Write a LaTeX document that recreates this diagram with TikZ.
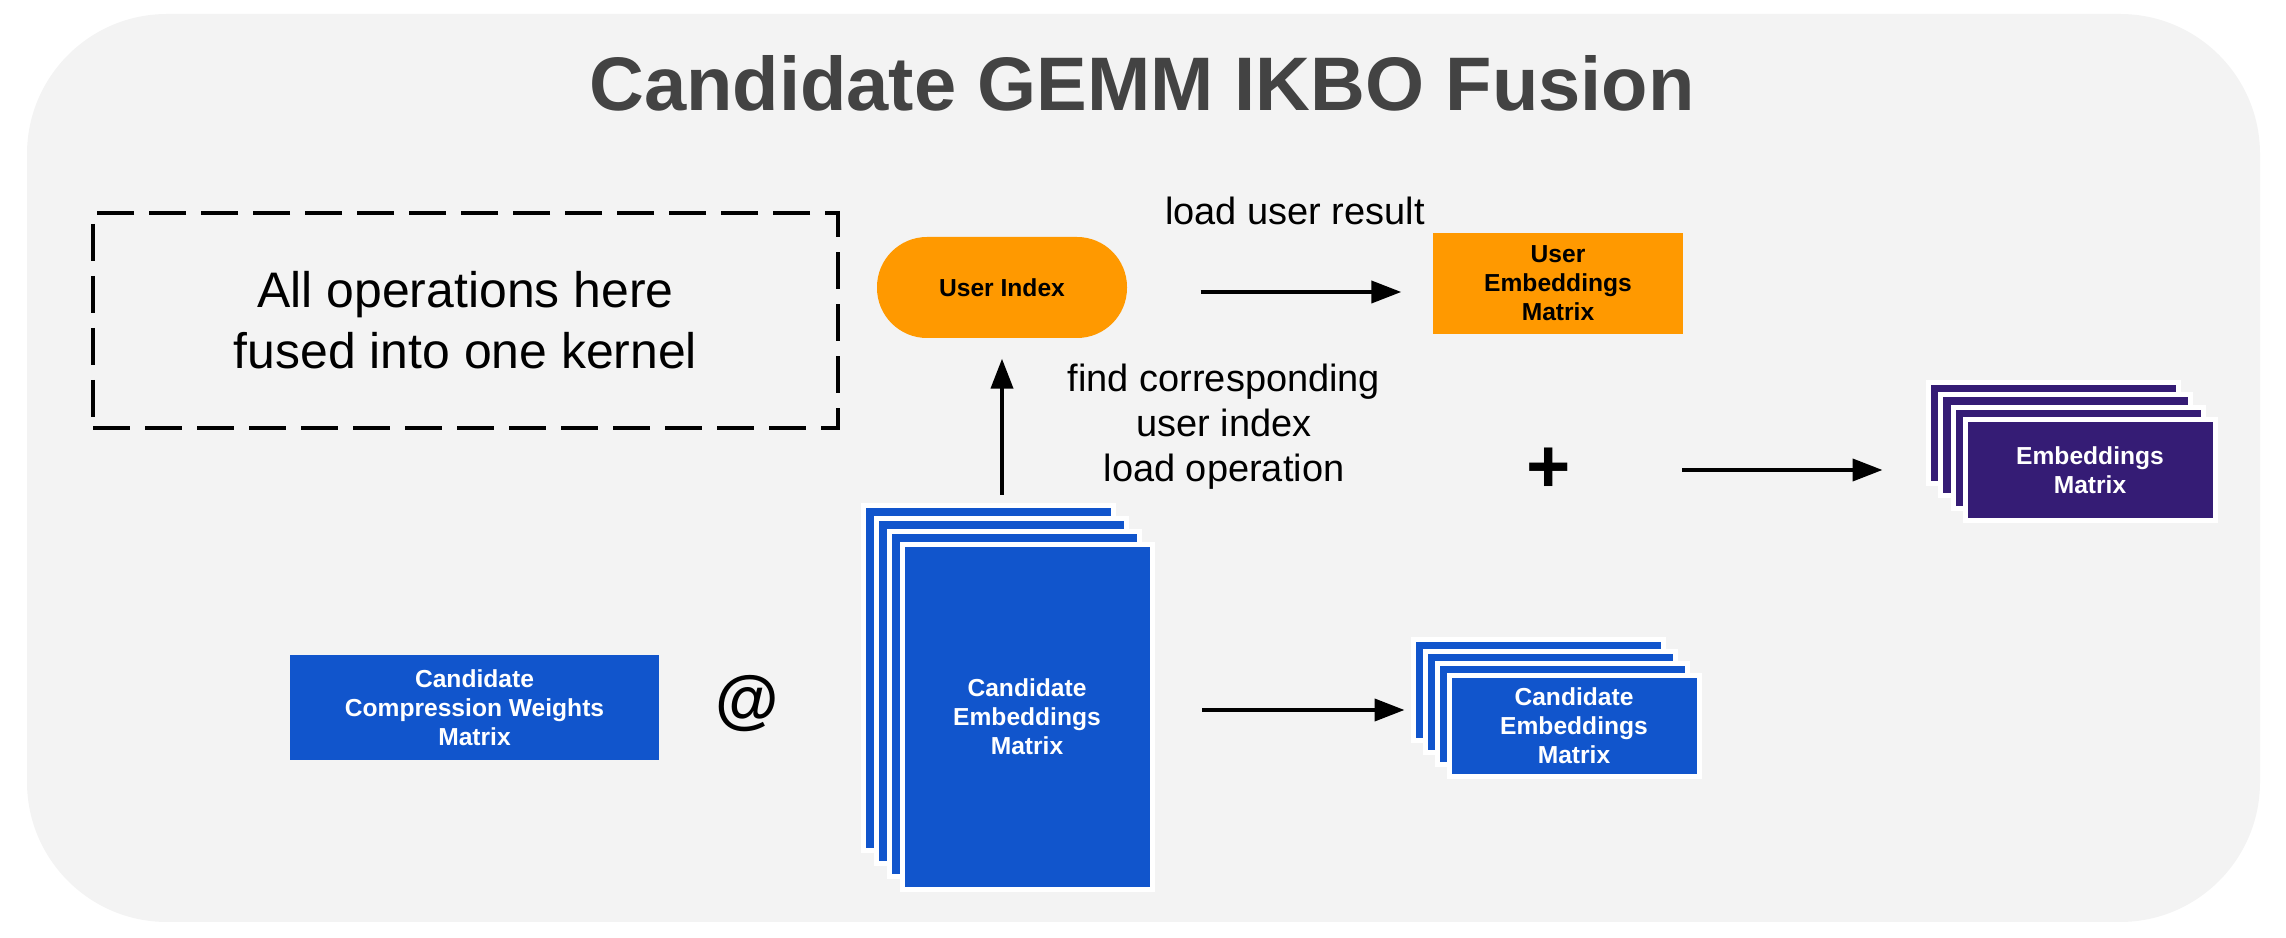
\documentclass[tikz,border=0pt]{standalone}
\usepackage{fontspec}
\setmainfont{Liberation Sans}
\usetikzlibrary{arrows.meta,positioning}
\definecolor{fgorange}{HTML}{FF9900}
\definecolor{fgblue}{HTML}{1155CC}
\definecolor{fgpurple}{HTML}{351C75}
\definecolor{fgback}{HTML}{F3F3F3}
\definecolor{fgtitle}{HTML}{434343}

\begin{document}
\begin{tikzpicture}[x=0.1mm,y=-0.1mm,
 boxtext/.style={font=\fontsize{7pt}{8.25pt}\selectfont\bfseries,align=center,inner sep=0pt},
 layer/.style={boxtext,draw=white,line width=0.5mm,minimum width=25mm,minimum height=10.1mm,text=white},
 tall/.style={layer,minimum height=34.5mm},
 note/.style={font=\fontsize{10.8pt}{12.8pt}\selectfont,align=center,inner sep=0pt},
 arr/.style={-{Triangle[length=3mm,width=2.2mm]},line width=0.4mm}
]
\useasboundingbox (0,0) rectangle (2286,938);
\fill[fgback,rounded corners=14mm] (27,14) rectangle (2260,922);

\node[font=\fontsize{21.6pt}{26pt}\selectfont\bfseries,text=fgtitle,inner sep=0pt] (title) at (1142,83) {Candidate GEMM IKBO Fusion};

\node[draw,line width=0.4mm,dash pattern=on 3.7mm off 1.5mm,minimum width=74.5mm,minimum height=21.5mm,
  font=\fontsize{14.2pt}{17.4pt}\selectfont,align=center] (fused) at (465.5,320.5) {All operations here\\fused into one kernel};

\node[boxtext,fill=fgorange,rounded corners=5mm,minimum width=25mm,minimum height=10.1mm] (ui) at (1002,287.5) {User Index};
\node[boxtext,fill=fgorange,minimum width=25mm,minimum height=10.1mm] (ue) at (1558,283.5) {User\\Embeddings\\Matrix};
\node[note] (lr) at (1295,211) {load user result};
\node[note] (fc) at (1224,427) {find corresponding\\user index\\load operation};

\node[boxtext,fill=fgblue,text=white,minimum width=36.9mm,minimum height=10.5mm] (cw) at (474.5,708) {Candidate\\Compression Weights\\Matrix};
\node[font=\fontsize{18.5pt}{22pt}\selectfont\bfseries,inner sep=0pt] (at) at (747,704) {@};

\node[tall,fill=fgblue] (ca) at (988,678) {};
\node[tall,fill=fgblue] (cb) at (1001,691) {};
\node[tall,fill=fgblue] (cc) at (1014,704) {};
\node[tall,fill=fgblue] (cd) at (1027,717) {Candidate\\Embeddings\\Matrix};

\node[layer,fill=fgblue] (sa) at (1538,690) {};
\node[layer,fill=fgblue] (sb) at (1550,702) {};
\node[layer,fill=fgblue] (sc) at (1562,714) {};
\node[layer,fill=fgblue] (sd) at (1574,726) {Candidate\\Embeddings\\Matrix};

\node[font=\fontsize{21.6pt}{26pt}\selectfont\bfseries,inner sep=0pt] (plus) at (1549,470) {+};

\node[layer,fill=fgpurple] (pa) at (2053,433) {};
\node[layer,fill=fgpurple] (pb) at (2065,445) {};
\node[layer,fill=fgpurple] (pc) at (2078,458) {};
\node[layer,fill=fgpurple] (pd) at (2090,470) {Embeddings\\Matrix};

\draw[arr,shorten <=0.8mm,shorten >=2mm] (ui.south |- ca.north) -- (ui.south);
\draw[arr,shorten <=7.3mm,shorten >=3.1mm] ([yshift=-0.45mm]ui.east) -- ([yshift=-0.45mm]ui.east -| ue.west);
\draw[arr,shorten <=4.75mm,shorten >=0.6mm] ([yshift=0.7mm]cd.east) -- ([yshift=0.7mm]cd.east -| sa.west);
\draw[arr,shorten <=13.3mm,shorten >=4.3mm] (plus.center) -- (plus.center -| pa.west);
\end{tikzpicture}
\end{document}
